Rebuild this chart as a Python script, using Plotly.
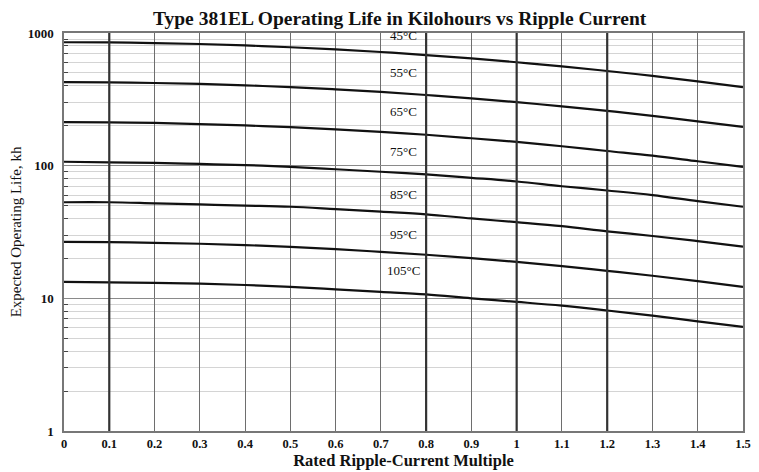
import math
import plotly.graph_objects as go

# Rated ripple-current multiple
x_vals = [0.0, 0.1, 0.2, 0.3, 0.4, 0.5, 0.6, 0.7, 0.8, 0.9, 1.0, 1.1, 1.2, 1.3, 1.4, 1.5]

# Expected operating life (kh) per ambient temperature
life_45 = [852, 849, 840, 826, 806, 781, 752, 719, 682, 643, 602, 561, 517, 475, 432, 391]
life_55 = [426, 424, 420, 413, 403, 391, 376, 360, 341, 322, 301, 280, 259, 237, 216, 196]
life_65 = [213, 212, 210, 206, 201, 195, 188, 180, 171, 161, 151, 140, 129, 119, 108, 98]
life_75 = [107, 106, 105, 103, 101, 98, 94, 90, 86, 81, 76, 70, 65, 60, 54, 49]
life_85 = [53, 53, 52, 51, 50, 49, 47, 45, 43, 40, 37.5, 35, 32, 29.5, 27, 24.5]
life_95 = [26.6, 26.5, 26.2, 25.8, 25.2, 24.4, 23.5, 22.4, 21.3, 20.1, 18.8, 17.5, 16.1, 14.8, 13.5, 12.2]
life_105 = [13.3, 13.2, 13.1, 12.9, 12.6, 12.2, 11.7, 11.2, 10.7, 10.0, 9.4, 8.8, 8.1, 7.4, 6.7, 6.1]

series_names = ["45°C", "55°C", "65°C", "75°C", "85°C", "95°C", "105°C"]
series_values = [life_45, life_55, life_65, life_75, life_85, life_95, life_105]

# value where each temperature label sits
label_x = 0.75
label_y = [960, 506, 254, 127, 60.6, 30.4, 16.1]

x_ticks = [0, 0.1, 0.2, 0.3, 0.4, 0.5, 0.6, 0.7, 0.8, 0.9, 1, 1.1, 1.2, 1.3, 1.4, 1.5]
x_tick_text = ["0", "0.1", "0.2", "0.3", "0.4", "0.5", "0.6", "0.7", "0.8", "0.9", "1", "1.1", "1.2", "1.3", "1.4", "1.5"]
y_ticks = [1, 10, 100, 1000]
y_tick_text = ["1", "10", "100", "1000"]
y_minor = [2, 3, 4, 5, 6, 7, 8, 9, 20, 30, 40, 50, 60, 70, 80, 90, 200, 300, 400, 500, 600, 700, 800, 900]
emphasized_x = [0.1, 0.8, 1.0, 1.2]

SERIF = "Liberation Serif, Times New Roman, serif"

fig = go.Figure()
for xv in emphasized_x:
    fig.add_shape(type="line", x0=xv, x1=xv, y0=0, y1=1, xref="x", yref="y domain",
                  line=dict(color="#333333", width=2.2), layer="above")

for name, vals in zip(series_names, series_values):
    fig.add_trace(go.Scatter(x=x_vals, y=vals, mode="lines", name=name,
                             line=dict(color="#111111", width=2.2, shape="spline"),
                             showlegend=False, hoverinfo="skip"))

for name, yv in zip(series_names, label_y):
    fig.add_annotation(x=label_x, y=math.log10(yv), xref="x", yref="y", text=name,
                       showarrow=False,
                       font=dict(family=SERIF, size=13, color="#111111"))

# page body adds an 8px offset, so margins are compensated
fig.update_layout(
    width=759, height=472,
    margin=dict(l=56, r=24, t=25, b=49, autoexpand=False),
    paper_bgcolor="white", plot_bgcolor="white",
    title=dict(text="<b>Type 381EL Operating Life in Kilohours vs Ripple Current</b>",
               x=0.516, xanchor="center", y=0.979, yanchor="middle",
               font=dict(family=SERIF, size=19.5, color="#111111")),
)
fig.update_xaxes(
    range=[0, 1.5], tickvals=x_ticks, ticktext=["<b>%s</b>" % t for t in x_tick_text],
    tickfont=dict(family=SERIF, size=12.5, color="#111111"),
    showgrid=True, gridcolor="#6e6e6e", gridwidth=1.2,
    showline=True, linecolor="#777777", linewidth=1.5, mirror=True,
    zeroline=False, ticks="", ticklen=0, automargin=True,
    title=dict(text="<b>Rated Ripple-Current Multiple</b>",
               font=dict(family=SERIF, size=16.5, color="#111111"), standoff=3),
)
fig.update_yaxes(
    type="log", range=[0, 3], tickvals=y_ticks, ticktext=["<b>%s</b>" % t for t in y_tick_text],
    tickfont=dict(family=SERIF, size=13, color="#111111"),
    ticklabelstandoff=6, automargin=False,
    showgrid=True, gridcolor="#8a8a8a", gridwidth=1,
    minor=dict(tickvals=y_minor, showgrid=True, gridcolor="#d4d4d4", gridwidth=1,
               ticks="inside", ticklen=4, tickcolor="#444444"),
    showline=True, linecolor="#777777", linewidth=1.5, mirror=True,
    zeroline=False, ticks="", ticklen=0,
    title=dict(text="Expected Operating Life, kh",
               font=dict(family=SERIF, size=15, color="#111111")),
)

fig.write_html("out.html")
